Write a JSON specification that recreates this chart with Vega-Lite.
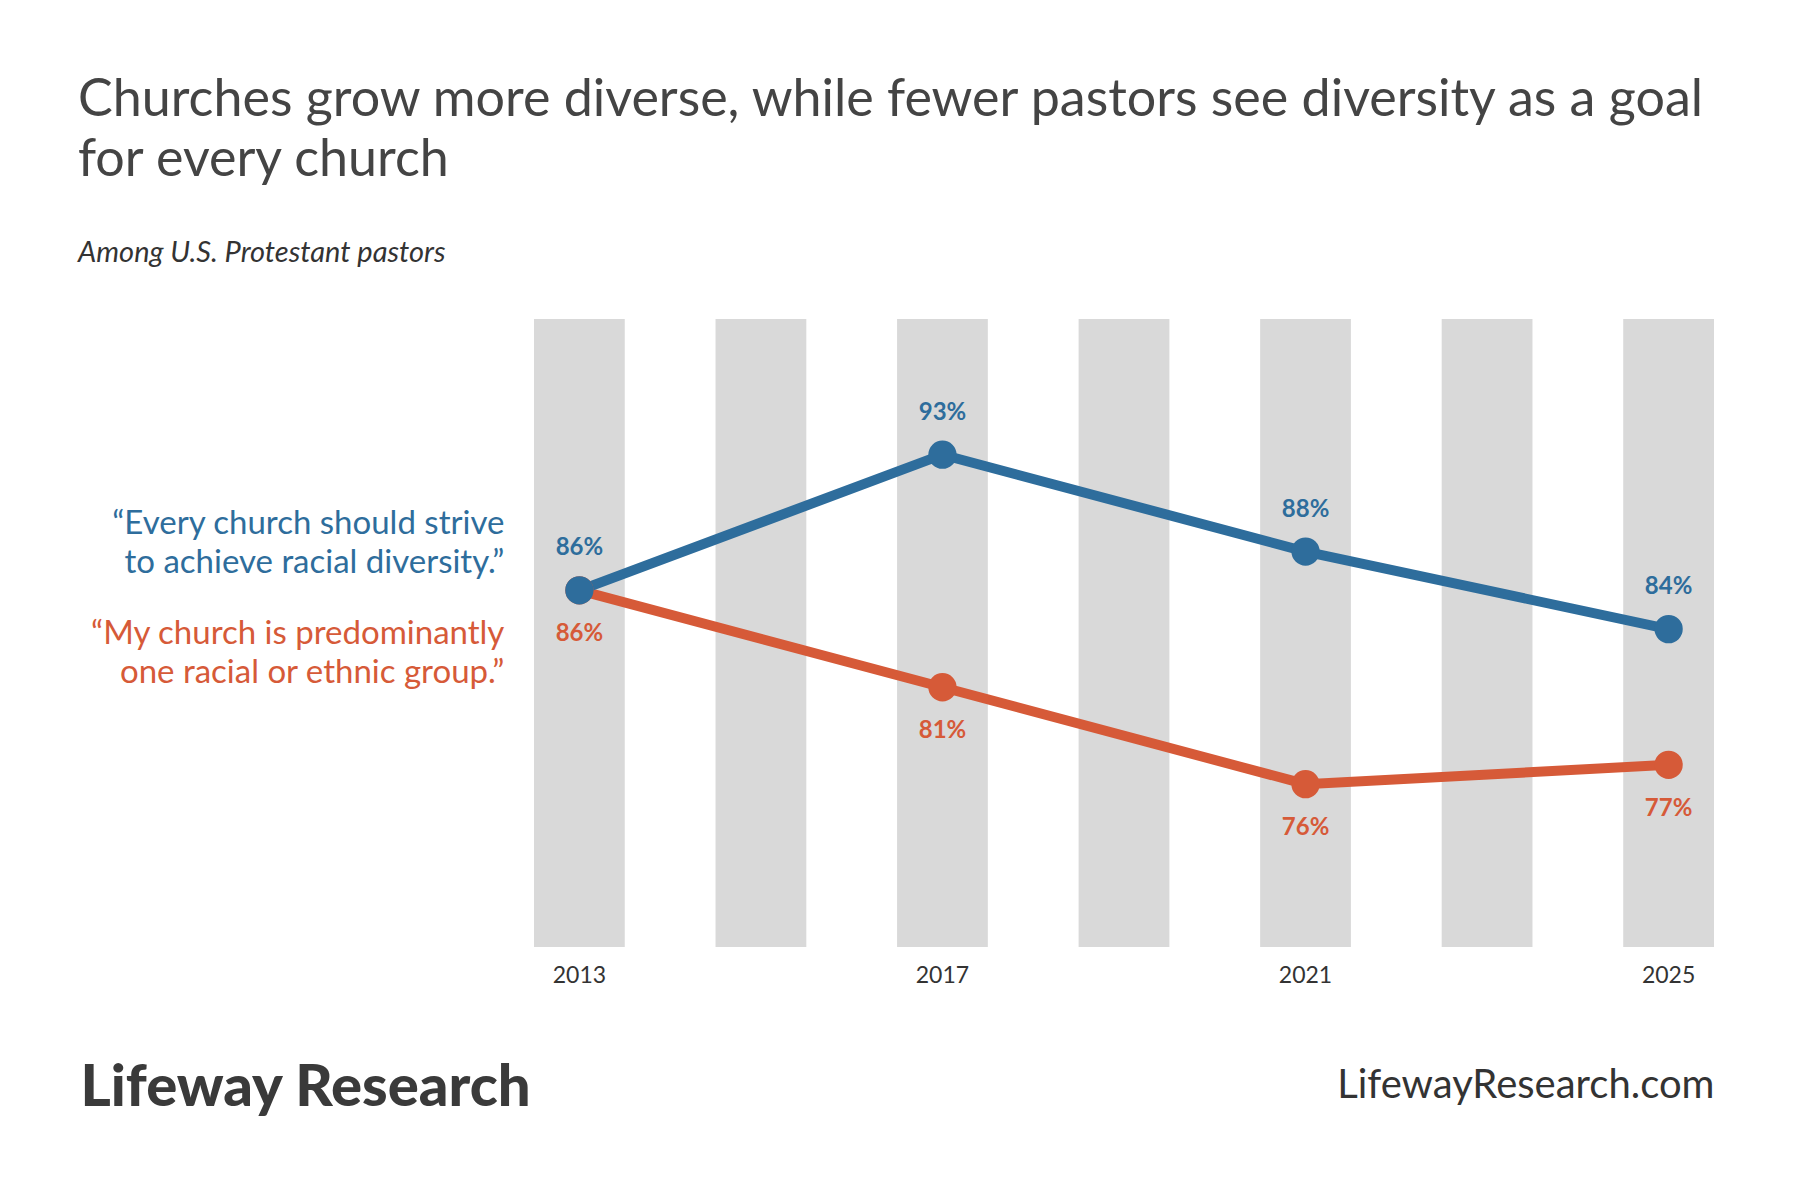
{
  "$schema": "https://vega.github.io/schema/vega-lite/v6.json",
  "autosize": {"type": "none"},
  "width": 1180,
  "height": 628,
  "padding": {"left": 534, "top": 319, "right": 86, "bottom": 253},
  "background": "white",
  "title": {
    "text": ["Churches grow more diverse, while fewer pastors see diversity as a goal", "for every church"],
    "subtitle": "Among U.S. Protestant pastors",
    "anchor": "start",
    "frame": "group",
    "dx": -456,
    "offset": 50,
    "font": "Lato",
    "fontSize": 52,
    "fontWeight": "normal",
    "color": "#444444",
    "lineHeight": 60,
    "subtitleFont": "Lato",
    "subtitleFontSize": 29,
    "subtitleFontStyle": "italic",
    "subtitleColor": "#333333",
    "subtitlePadding": 52
  },
  "datasets": {
    "years": [
      {"year": 2013}, {"year": 2015}, {"year": 2017}, {"year": 2019},
      {"year": 2021}, {"year": 2023}, {"year": 2025}
    ],
    "series": [
      {"series": "predominant", "year": 2013, "value": 0.86},
      {"series": "predominant", "year": 2017, "value": 0.81},
      {"series": "predominant", "year": 2021, "value": 0.76},
      {"series": "predominant", "year": 2025, "value": 0.77},
      {"series": "goal", "year": 2013, "value": 0.86},
      {"series": "goal", "year": 2017, "value": 0.93},
      {"series": "goal", "year": 2021, "value": 0.88},
      {"series": "goal", "year": 2025, "value": 0.84}
    ],
    "notes": [
      {"series": "goal", "year": 2013, "value": 0.86, "note": ["“Every church should strive", "to achieve racial diversity.”"]},
      {"series": "predominant", "year": 2013, "value": 0.86, "note": ["“My church is predominantly", "one racial or ethnic group.”"]}
    ]
  },
  "encoding": {
    "x": {
      "field": "year",
      "type": "ordinal",
      "scale": {"domain": [2013, 2015, 2017, 2019, 2021, 2023, 2025], "paddingInner": 0.5, "paddingOuter": 0},
      "axis": {
        "values": [2013, 2017, 2021, 2025],
        "labelAngle": 0,
        "labelFont": "Lato",
        "labelFontSize": 23,
        "labelColor": "#333333",
        "labelPadding": 17,
        "domain": false,
        "ticks": false,
        "tickSize": 0,
        "grid": false,
        "title": "Lifeway Research",
        "titleFont": "Lato",
        "titleFontSize": 58,
        "titleFontWeight": 900,
        "titleColor": "#3a3a3a",
        "titleAlign": "left",
        "titleBaseline": "alphabetic",
        "titleX": -454,
        "titleY": 158
      }
    }
  },
  "layer": [
    {
      "data": {"name": "years"},
      "mark": {"type": "rect", "color": "#d9d9d9"}
    },
    {
      "encoding": {
        "y": {
          "field": "value",
          "type": "quantitative",
          "scale": {"domain": [0.676, 1.0], "nice": false, "zero": false},
          "axis": {
            "orient": "right",
            "labels": false,
            "ticks": false,
            "domain": false,
            "grid": false,
            "title": "LifewayResearch.com",
            "titleAngle": 0,
            "titleFont": "Lato",
            "titleFontSize": 40,
            "titleFontWeight": "normal",
            "titleColor": "#333333",
            "titleAlign": "right",
            "titleBaseline": "alphabetic",
            "titleX": 0,
            "titleY": 778
          }
        },
        "color": {
          "field": "series",
          "type": "nominal",
          "scale": {"domain": ["goal", "predominant"], "range": ["#2e6d9c", "#d65a38"]},
          "legend": null
        }
      },
      "layer": [
        {
          "data": {"name": "series"},
          "mark": {"type": "line", "strokeWidth": 10}
        },
        {
          "data": {"name": "series"},
          "mark": {"type": "circle", "size": 800, "opacity": 1}
        },
        {
          "data": {"name": "series"},
          "transform": [{"filter": "datum.series == 'goal'"}],
          "mark": {"type": "text", "font": "Lato", "fontSize": 24, "fontWeight": "bold", "baseline": "middle", "dy": -42},
          "encoding": {"text": {"field": "value", "format": ".0%"}}
        },
        {
          "data": {"name": "series"},
          "transform": [{"filter": "datum.series == 'predominant'"}],
          "mark": {"type": "text", "font": "Lato", "fontSize": 24, "fontWeight": "bold", "baseline": "middle", "dy": 44},
          "encoding": {"text": {"field": "value", "format": ".0%"}}
        },
        {
          "data": {"name": "notes"},
          "transform": [{"filter": "datum.series == 'goal'"}],
          "mark": {"type": "text", "font": "Lato", "fontSize": 33, "align": "right", "baseline": "middle", "lineHeight": 39, "dx": -75, "dy": -66},
          "encoding": {"text": {"field": "note"}}
        },
        {
          "data": {"name": "notes"},
          "transform": [{"filter": "datum.series == 'predominant'"}],
          "mark": {"type": "text", "font": "Lato", "fontSize": 33, "align": "right", "baseline": "middle", "lineHeight": 39, "dx": -75, "dy": 44},
          "encoding": {"text": {"field": "note"}}
        }
      ]
    }
  ],
  "config": {
    "view": {"stroke": null}
  }
}
